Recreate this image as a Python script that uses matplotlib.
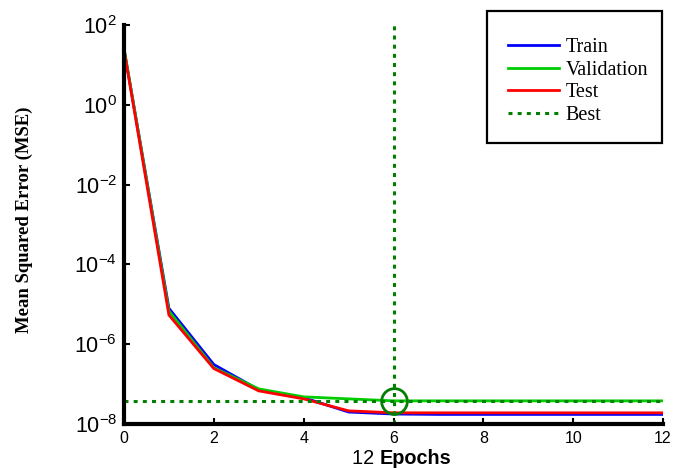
import matplotlib
matplotlib.use('Agg')
import matplotlib.pyplot as plt
from matplotlib.patches import Rectangle

# значения MSE по эпохам (log10)
epochs = [0, 1, 2, 3, 4, 5, 6, 7, 8, 9, 10, 11, 12]
train_log = [1.40, -5.10, -6.51, -7.14, -7.34, -7.70, -7.75, -7.76, -7.76, -7.76, -7.76, -7.76, -7.76]
valid_log = [1.42, -5.17, -6.59, -7.12, -7.32, -7.37, -7.42, -7.42, -7.42, -7.42, -7.42, -7.42, -7.42]
test_log = [1.38, -5.27, -6.61, -7.17, -7.37, -7.67, -7.72, -7.72, -7.72, -7.72, -7.72, -7.72, -7.72]
best_epoch = 6
ytick_exp = [2, 0, -2, -4, -6, -8]
xticks = [0, 2, 4, 6, 8, 10, 12]

train = [10 ** v for v in train_log]
valid = [10 ** v for v in valid_log]
test = [10 ** v for v in test_log]
best_val = valid[best_epoch]

plt.rcParams['font.family'] = ['Liberation Sans', 'DejaVu Sans']
plt.rcParams['mathtext.default'] = 'regular'

fig = plt.figure(figsize=(6.75, 4.68), dpi=100)
ax = fig.add_axes([124 / 675, 1 - 424 / 468, (663 - 124) / 675, (424 - 25) / 468])

dash = (0, (1.3, 1.7))
ax.semilogy(epochs, train, color='#0000ff', lw=2.0, label='Train')
ax.semilogy(epochs, valid, color='#00cc00', lw=2.0, label='Validation')
ax.semilogy(epochs, test, color='#ff0000', lw=2.0, label='Test')
ax.plot([0, 12], [best_val, best_val], color='#007f00', lw=2.2, ls=dash, label='Best')
ax.plot([best_epoch, best_epoch], [1e-8, 1e2], color='#007f00', lw=2.2, ls=dash)
ax.plot([best_epoch], [best_val], 'o', mfc='none', mec='#007f00', mew=2.0, ms=18.5)

ax.set_xlim(0, 12)
ax.set_ylim(1e-8, 1e2)
ax.set_xticks(xticks)
ax.set_xticklabels([str(t) for t in xticks], fontsize=11.5)
ax.set_yticks([10.0 ** e for e in ytick_exp])
ax.set_yticklabels(['$10^{%d}$' % e for e in ytick_exp], fontsize=15.5)
ax.minorticks_off()
ax.tick_params(direction='in', length=4.5, width=1.5, pad=5)
ax.tick_params(axis='x', pad=5)

for s in ['top', 'right']:
    ax.spines[s].set_visible(False)
for s in ['left', 'bottom']:
    ax.spines[s].set_linewidth(3)

# подпись оси X: "12" обычным, "Epochs" жирным
t1 = fig.text(352 / 675, 1 - 464 / 468, '12 ', fontsize=14.3, va='baseline')
ax.annotate('Epochs', xy=(1, 0), xycoords=t1, va='bottom', fontsize=14.3, fontweight='bold')

fig.text(24 / 675, 1 - 220 / 468, 'Mean Squared Error (MSE)', rotation=90, ha='center', va='center',
         family=['Liberation Serif'], fontweight='bold', fontsize=13.5)

# рамка легенды
fig.patches.append(Rectangle((487 / 675, 1 - 143 / 468), 175 / 675, 132 / 468,
                             transform=fig.transFigure, fill=False, ec='black', lw=1.6))
fig.legend(loc='upper left', bbox_to_anchor=(508 / 675, 1 - 38 / 468), frameon=False,
           prop={'family': 'Liberation Serif', 'size': 14.5}, handlelength=2.55,
           labelspacing=0.17, handletextpad=0.3, borderpad=0, borderaxespad=0)

fig.savefig('out.png', dpi=100)
